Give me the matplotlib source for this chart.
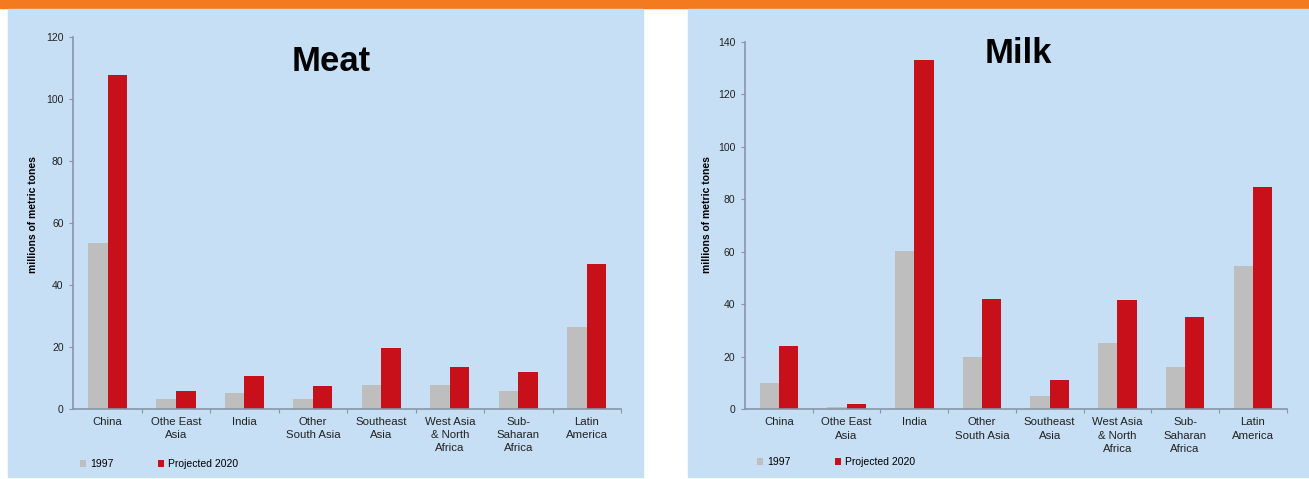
import numpy as np
import matplotlib.pyplot as plt
from matplotlib.patches import Rectangle

plt.rcParams['font.family'] = ['Liberation Sans', 'DejaVu Sans']

## the data
regions = ['China', 'Othe East\nAsia', 'India', 'Other\nSouth Asia', 'Southeast\nAsia',
           'West Asia\n& North\nAfrica', 'Sub-\nSaharan\nAfrica', 'Latin\nAmerica']
meat_1997 = [53.5, 3.1, 5.0, 3.1, 7.7, 7.7, 5.6, 26.5]
meat_2020 = [107.8, 5.8, 10.6, 7.3, 19.5, 13.4, 11.7, 46.6]
milk_1997 = [9.8, 0.8, 60.3, 19.9, 5.1, 25.0, 16.1, 54.5]
milk_2020 = [24.0, 2.0, 133.0, 41.8, 11.2, 41.5, 34.9, 84.5]
series_names = ['1997', 'Projected 2020']

grey = '#BEBEBE'
red = '#C8101A'
panel_bg = '#C6DFF4'
axis_col = '#8796A8'

W, H = 1309, 479
fig = plt.figure(figsize=(W / 100, H / 100), dpi=100)
fig.patch.set_facecolor('white')

def px(x0, y0, x1, y1):
    # pixel box (top-left origin) -> figure fraction rect
    return [x0 / W, 1 - y1 / H, (x1 - x0) / W, (y1 - y0) / H]

# header bar and panel backgrounds
r = px(0, 0, W, 8)
fig.patches.append(Rectangle(r[:2], r[2], r[3], transform=fig.transFigure,
                             color='#F47A1F', zorder=-10))
for box in [(8, 9, 643, 477), (688, 9, W, 477)]:
    r = px(*box)
    fig.patches.append(Rectangle(r[:2], r[2], r[3], transform=fig.transFigure,
                                 color=panel_bg, zorder=-10))

ind = np.arange(len(regions))
width = 0.285

def draw_panel(rect, v1, v2, ymax, ystep, title, title_xy, ylab_x, leg_xy, colsp):
    ax = fig.add_axes(rect)
    ax.set_facecolor('none')
    b1 = ax.bar(ind - width, v1, width, align='edge', color=grey, zorder=2)
    b2 = ax.bar(ind, v2, width, align='edge', color=red, zorder=2)
    ax.set_xlim(-0.5, len(ind) - 0.5)
    ax.set_ylim(0, ymax)
    ax.set_yticks(np.arange(0, ymax + 1, ystep))
    ax.set_xticks(ind + 0.5, minor=False)
    ax.set_xticklabels([])
    ax.set_xticks(ind, minor=True)
    labs = ax.set_xticklabels(regions, minor=True, fontsize=8.2, color='#222222')
    plt.setp(labs, linespacing=1.4)
    ax.tick_params(axis='x', which='minor', length=0, pad=6)
    ax.tick_params(axis='x', which='major', length=3, color=axis_col)
    ax.tick_params(axis='y', length=3, color=axis_col, labelsize=7.5,
                   labelcolor='#222222', pad=4)
    for s in ['top', 'right']:
        ax.spines[s].set_visible(False)
    for s in ['left', 'bottom']:
        ax.spines[s].set_color(axis_col)
        ax.spines[s].set_linewidth(1.2)
    fig.text(title_xy[0] / W, 1 - title_xy[1] / H, title, fontsize=25,
             fontweight='bold', ha='center', va='baseline')
    fig.text(ylab_x / W, 1 - 215 / H, 'millions of metric tones', rotation=90,
             fontsize=7.5, fontweight='bold', ha='center', va='center')
    fig.legend((b1[0], b2[0]), series_names, loc='center left',
               bbox_to_anchor=(leg_xy[0] / W, 1 - leg_xy[1] / H),
               bbox_transform=fig.transFigure, ncol=2, frameon=False,
               fontsize=7.5, handlelength=0.6, handleheight=0.6,
               handletextpad=0.4, columnspacing=colsp, borderpad=0,
               borderaxespad=0)
    return ax

draw_panel(px(73.3, 37.3, 621, 408.7), meat_1997, meat_2020, 120, 20,
           'Meat', (331, 71), 33, (80, 464), 4.2)
draw_panel(px(745, 41.7, 1286.7, 409), milk_1997, milk_2020, 140, 20,
           'Milk', (1018, 63), 707, (757, 462), 4.2)

fig.savefig('out.png', dpi=100)
